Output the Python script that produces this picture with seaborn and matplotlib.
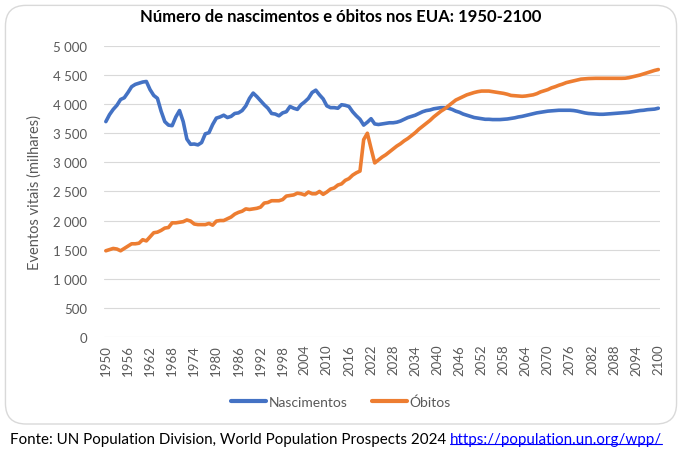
import numpy as np
import pandas as pd
import seaborn as sns
import matplotlib.pyplot as plt
from matplotlib.patches import FancyBboxPatch
from matplotlib.ticker import FuncFormatter, MultipleLocator

years = list(range(1950, 2101))

# births, thousands
nascimentos = [
    3700, 3820, 3910, 3980, 4080, 4110, 4200, 4300, 4340, 4360,
    4380, 4390, 4250, 4150, 4100, 3880, 3700, 3640, 3630, 3780,
    3890, 3700, 3400, 3310, 3315, 3300, 3340, 3490, 3510, 3650,
    3760, 3780, 3810, 3770, 3790, 3840, 3850, 3890, 3970, 4100,
    4190, 4130, 4060, 3990, 3930, 3840, 3830, 3800, 3850, 3870,
    3960, 3930, 3910, 3990, 4040, 4100, 4200, 4240, 4160, 4090,
    3970, 3940, 3940, 3930, 3990, 3980, 3960, 3870, 3800, 3740,
    3640, 3690, 3750, 3660, 3650, 3660, 3670, 3680, 3680, 3690,
    3710, 3740, 3770, 3790, 3810, 3840, 3870, 3890, 3900, 3920,
    3930, 3940, 3940, 3930, 3910, 3880, 3860, 3830, 3810, 3790,
    3770, 3760, 3750, 3740, 3740, 3735, 3735, 3735, 3740, 3745,
    3755, 3765, 3780, 3790, 3805, 3820, 3835, 3850, 3860, 3870,
    3880, 3885, 3890, 3895, 3895, 3895, 3895, 3890, 3880, 3865,
    3850, 3840, 3835, 3830, 3826, 3826, 3830, 3835, 3840, 3845,
    3850, 3855, 3860, 3870, 3880, 3890, 3895, 3905, 3910, 3915,
    3930,
]

# deaths, thousands
obitos = [
    1480, 1500, 1520, 1510, 1480, 1520, 1560, 1600, 1600, 1610,
    1670, 1650, 1720, 1790, 1800, 1830, 1870, 1880, 1960, 1960,
    1970, 1980, 2010, 1990, 1940, 1930, 1930, 1930, 1950, 1920,
    1990, 2000, 2000, 2030, 2060, 2110, 2140, 2160, 2200, 2190,
    2200, 2210, 2230, 2300, 2310, 2340, 2340, 2340, 2360, 2420,
    2430, 2440, 2470, 2460, 2440, 2490, 2460, 2460, 2500, 2450,
    2490, 2540, 2560, 2610, 2630, 2690, 2720, 2780, 2820, 2850,
    3390, 3500, 3240, 2990, 3040, 3090, 3130, 3180, 3230, 3280,
    3320, 3370, 3410, 3460, 3510, 3570, 3620, 3670, 3720, 3780,
    3830, 3880, 3920, 3970, 4020, 4070, 4100, 4130, 4160, 4180,
    4200, 4215, 4225, 4225, 4225, 4215, 4205, 4195, 4185, 4170,
    4150, 4145, 4140, 4135, 4140, 4150, 4160, 4180, 4210, 4230,
    4250, 4280, 4300, 4325, 4345, 4370, 4385, 4400, 4415, 4430,
    4435, 4440, 4442, 4444, 4444, 4444, 4444, 4444, 4444, 4444,
    4444, 4446, 4455, 4470, 4485, 4500, 4520, 4540, 4560, 4580,
    4595,
]

series_names = ["Nascimentos", "Óbitos"]
colors = ["#4472C4", "#ED7D31"]

df = pd.DataFrame({"Ano": years, series_names[0]: nascimentos, series_names[1]: obitos})
df = df.melt(id_vars="Ano", var_name="Série", value_name="Valor")

sns.set_style("white")
plt.rcParams["font.family"] = ["Lato", "DejaVu Sans"]

fig = plt.figure(figsize=(6.82, 4.56), dpi=100)

# rounded chart frame, behind the axes
frame = FancyBboxPatch((0.008, 0.068), 0.984, 0.918, boxstyle="round,pad=0,rounding_size=0.03",
                       transform=fig.transFigure, facecolor="white", edgecolor="#D9D9D9", lw=1.0,
                       mutation_aspect=682 / 456, zorder=-5)
fig.patches.append(frame)

ax = fig.add_axes([0.1525, 0.259, 0.8155, 0.638])
ax.set_facecolor("none")
ax.set_zorder(2)
sns.lineplot(data=df, x="Ano", y="Valor", hue="Série", palette=colors, lw=2.6, ax=ax, legend=False)

ax.set_xlim(1949.5, 2100.5)
ax.set_ylim(0, 5000)
ax.yaxis.set_major_locator(MultipleLocator(500))
ax.yaxis.set_major_formatter(FuncFormatter(lambda v, p: f"{int(v):,}".replace(",", " ")))
ax.set_xticks(years[::6])
ax.set_xticklabels([str(y) for y in years[::6]], rotation=90)
ax.tick_params(axis="both", length=0, labelsize=9.5, labelcolor="#595959")
ax.tick_params(axis="y", pad=12)
ax.tick_params(axis="x", pad=5)
ax.grid(axis="y", color="#D9D9D9", lw=0.8)
ax.set_axisbelow(True)
for s in ax.spines.values():
    s.set_visible(False)
ax.set_xlabel("")
ax.set_ylabel("Eventos vitais (milhares)", fontsize=10.5, color="#595959", labelpad=8)

fig.text(0.5, 0.962, "Número de nascimentos e óbitos nos EUA: 1950-2100", ha="center", va="center",
         fontsize=12, fontweight="bold", color="black")

# legend
handles = [plt.Line2D([], [], color=c, lw=3) for c in colors]
fig.legend(handles, series_names, loc="center", bbox_to_anchor=(0.5, 0.116), ncol=2, frameon=False,
           fontsize=10, handlelength=2.5, handletextpad=0.2, columnspacing=1.8, labelcolor="#595959")

# footer with link
t1 = fig.text(0.015, 0.035, "Fonte: UN Population Division, World Population Prospects 2024 ",
              ha="left", va="center", fontsize=10.9, color="black")
fig.canvas.draw()
bb = t1.get_window_extent(renderer=fig.canvas.get_renderer())
x_link = bb.x1 / fig.bbox.width
t2 = fig.text(x_link, 0.035, "https://population.un.org/wpp/", ha="left", va="center",
              fontsize=10.9, color="#0000FF")
fig.canvas.draw()
bb2 = t2.get_window_extent(renderer=fig.canvas.get_renderer())
fig.add_artist(plt.Line2D([bb2.x0 / fig.bbox.width, bb2.x1 / fig.bbox.width], [bb2.y0 / fig.bbox.height + 0.004] * 2,
                          transform=fig.transFigure, color="#0000FF", lw=0.8))

fig.savefig("out.png", dpi=100)
